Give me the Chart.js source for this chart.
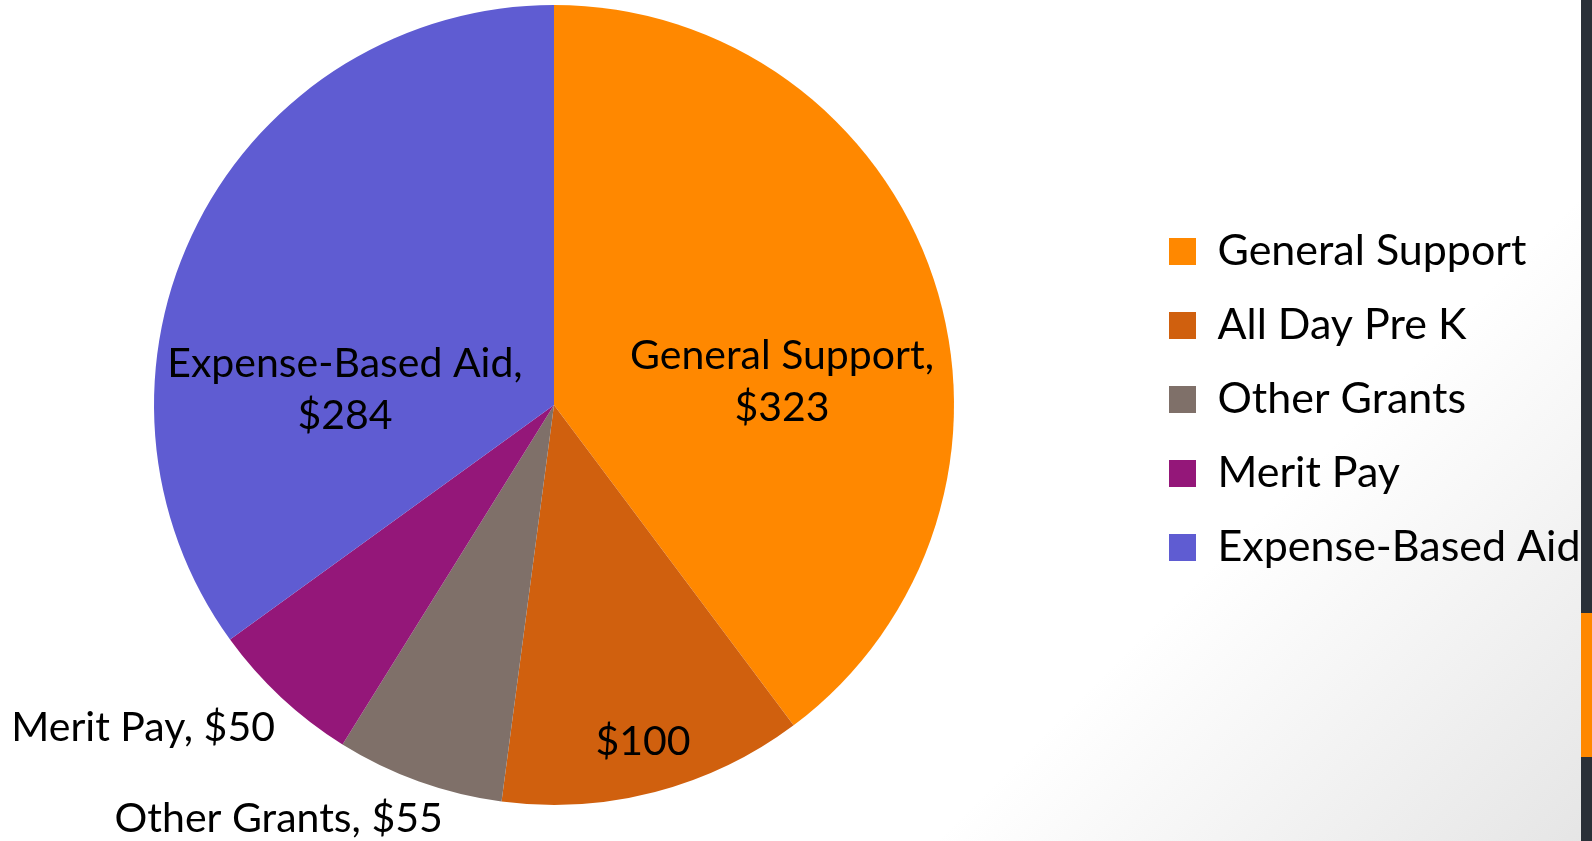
<!DOCTYPE html>
<html>
<head>
<meta charset="utf-8">
<script src="https://cdn.jsdelivr.net/npm/chart.js@4.4.0/dist/chart.umd.min.js"></script>
<style>
  html, body { margin: 0; padding: 0; }
  body {
    width: 1592px; height: 841px; overflow: hidden; position: relative;
    background: linear-gradient(135deg, #ffffff 73%, #e5e5e5 100%);
  }
  #wrap { position: absolute; left: -30px; top: 0; width: 1611px; height: 841px; }
  #strip { position: absolute; left: 1581px; top: 0; width: 11px; height: 841px; background: #2a3038; }
  #accent { position: absolute; left: 1581px; top: 613px; width: 11px; height: 144px; background: #ff8800; }
</style>
</head>
<body>
<div id="wrap"><canvas id="c"></canvas></div>
<div id="strip"></div>
<div id="accent"></div>
<script>
// ---- data ----
const categories = ["General Support", "All Day Pre K", "Other Grants", "Merit Pay", "Expense-Based Aid"];
const values = [323, 100, 55, 50, 284];
const sliceColors = ["#ff8800", "#d0600e", "#7f7069", "#941779", "#5f5cd2"];
// label text style per slice: 'twoLine' = "Name,\n$v", 'oneLine' = "Name, $v", 'valueOnly' = "$v"
const labelModes = ["twoLine", "valueOnly", "oneLine", "oneLine", "twoLine"];
// label placement: angle offset from slice middle (deg, clockwise) and distance as fraction of radius
const labelAngleOffsets = [12.6, -0.2, 13.9, 8.8, -22.9];
const labelRadiusFractions = [0.573, 0.87, 1.243, 1.307, 0.524];

const LABEL_FONT = "Lato, 'Open Sans', sans-serif";
const LABEL_SIZE = 41;
const LEGEND_WIDTH = 443;

const legendWidthFix = {
  id: 'legendWidthFix',
  beforeInit(chart) {
    const legend = chart.legend;
    if (!legend) return;
    const origFit = legend.fit;
    legend.fit = function () {
      origFit.call(this);
      this.width = LEGEND_WIDTH;
    };
  }
};

const sliceLabels = {
  id: 'sliceLabels',
  afterDatasetsDraw(chart) {
    const ctx = chart.ctx;
    const meta = chart.getDatasetMeta(0);
    ctx.save();
    ctx.fillStyle = '#000';
    ctx.textAlign = 'center';
    ctx.textBaseline = 'middle';
    ctx.font = LABEL_SIZE + 'px ' + LABEL_FONT;
    meta.data.forEach((arc, i) => {
      const p = arc.getProps(['x', 'y', 'startAngle', 'endAngle', 'outerRadius'], true);
      const mid = (p.startAngle + p.endAngle) / 2 + labelAngleOffsets[i] * Math.PI / 180;
      const r = p.outerRadius * labelRadiusFractions[i];
      const cx = p.x + Math.cos(mid) * r;
      const cy = p.y + Math.sin(mid) * r;
      const v = '$' + values[i];
      let lines;
      if (labelModes[i] === 'twoLine') lines = [categories[i] + ',', v];
      else if (labelModes[i] === 'oneLine') lines = [categories[i] + ', ' + v];
      else lines = [v];
      const lh = 52;
      const y0 = cy - (lines.length - 1) * lh / 2;
      lines.forEach((t, k) => ctx.fillText(t, cx, y0 + k * lh));
    });
    ctx.restore();
  }
};

new Chart(document.getElementById('c'), {
  type: 'pie',
  data: {
    labels: categories,
    datasets: [{
      data: values,
      backgroundColor: sliceColors,
      borderColor: sliceColors,
      borderWidth: 0,
      offset: 0,
      hoverOffset: 0
    }]
  },
  options: {
    responsive: true,
    maintainAspectRatio: false,
    animation: false,
    events: [],
    layout: { padding: { left: 0, right: 0, top: 5, bottom: 36 } },
    plugins: {
      tooltip: { enabled: false },
      legend: {
        position: 'right',
        align: 'start',
        title: { display: true, text: ' ', font: { size: 1, lineHeight: 1 }, padding: { top: 193, bottom: 0 } },
        labels: {
          boxWidth: 27,
          boxHeight: 27,
          padding: 31,
          color: '#000',
          font: { family: LABEL_FONT, size: 43 }
        }
      }
    }
  },
  plugins: [legendWidthFix, sliceLabels]
});
</script>
</body>
</html>
